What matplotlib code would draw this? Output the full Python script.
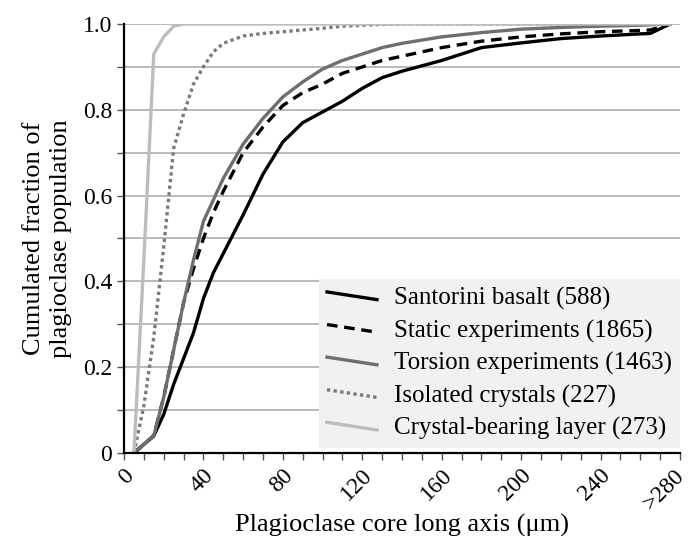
import matplotlib
matplotlib.use("Agg")
import matplotlib.pyplot as plt
from matplotlib.legend_handler import HandlerLine2D
from matplotlib.lines import Line2D
from matplotlib.transforms import ScaledTranslation

plt.rcParams['font.family'] = ['Liberation Serif', 'DejaVu Serif']

# Plagioclase core long axis (um)
core_axis = [5, 10, 15, 20, 25, 30, 35, 40, 45, 50, 60, 70, 80, 90, 100,
             110, 120, 130, 140, 160, 180, 200, 220, 240, 260, 265, 275]

santorini = [0, 0.02, 0.04, 0.09, 0.16, 0.22, 0.28, 0.36, 0.42, 0.465, 0.555,
             0.65, 0.725, 0.77, 0.795, 0.82, 0.85, 0.875, 0.89, 0.915, 0.945,
             0.956, 0.966, 0.972, 0.977, 0.978, 1.0]
static = [0, 0.02, 0.04, 0.13, 0.24, 0.35, 0.43, 0.5, 0.56, 0.61, 0.7, 0.76,
          0.81, 0.84, 0.86, 0.885, 0.9, 0.915, 0.925, 0.945, 0.96, 0.97,
          0.977, 0.982, 0.985, 0.986, 1.0]
torsion = [0, 0.02, 0.04, 0.13, 0.24, 0.35, 0.45, 0.54, 0.59, 0.64, 0.72,
           0.78, 0.83, 0.865, 0.895, 0.915, 0.93, 0.945, 0.955, 0.97, 0.98,
           0.988, 0.992, 0.995, 0.997, 0.998, 1.0]
isolated = [0, 0.11, 0.27, 0.48, 0.71, 0.79, 0.86, 0.9, 0.935, 0.955, 0.972,
            0.978, 0.982, 0.986, 0.99, 0.995, 0.997, 0.999, 1.0, 1.0, 1.0,
            1.0, 1.0, 1.0, 1.0, 1.0, 1.0]
layer = [0, 0.45, 0.93, 0.97, 0.995, 1.0, 1.0, 1.0, 1.0, 1.0, 1.0, 1.0, 1.0,
         1.0, 1.0, 1.0, 1.0, 1.0, 1.0, 1.0, 1.0, 1.0, 1.0, 1.0, 1.0, 1.0, 1.0]

labels = ["Santorini basalt (588)", "Static experiments (1865)",
          "Torsion experiments (1463)", "Isolated crystals (227)",
          "Crystal-bearing layer (273)"]
xtick_pos = [0, 40, 80, 120, 160, 200, 240, 280]
xtick_labels = ["0", "40", "80", "120", "160", "200", "240", ">280"]


class SlantHandler(HandlerLine2D):
    # Excel style slanted legend line
    def create_artists(self, legend, orig_handle, xdescent, ydescent,
                       width, height, fontsize, trans):
        yc = (height - ydescent) / 2
        d = 0.22 * height
        line = Line2D([-xdescent, -xdescent + width], [yc + d, yc - d])
        self.update_prop(line, orig_handle, legend)
        line.set_transform(trans)
        return [line]


fig = plt.figure(figsize=(6.9, 5.36), dpi=100)
ax = fig.add_axes([0.1797, 0.1549, 0.8058, 0.8003])

lw = 2.4
lines = []
lines += ax.plot(core_axis, santorini, color='black', lw=lw)
lines += ax.plot(core_axis, static, color='black', lw=lw, ls=(0, (3.2, 2.0)))
lines += ax.plot(core_axis, torsion, color='#6e6e6e', lw=lw)
lines += ax.plot(core_axis, isolated, color='#7a7a7a', lw=lw, ls=(0, (1, 1)),
                 dash_capstyle='butt')
lines += ax.plot(core_axis, layer, color='#bdbdbd', lw=lw)

ax.set_xlim(0, 280)
ax.set_ylim(0, 1.0)
ax.set_yticks([0, 0.2, 0.4, 0.6, 0.8, 1.0])
ax.set_yticklabels(["0", "0.2", "0.4", "0.6", "0.8", "1.0"])
ax.set_yticks([i / 10 for i in range(11)], minor=True)
ax.set_xticks(range(0, 281, 10), minor=True)
ax.set_xticks(xtick_pos)
ax.set_xticklabels(xtick_labels, rotation=45, ha='right', va='center',
                   rotation_mode='anchor')
ax.yaxis.grid(True, which='both', color='#b4b4b4', lw=1.3)
ax.set_axisbelow(True)

for s in ['top', 'right']:
    ax.spines[s].set_visible(False)
for s in ['left', 'bottom']:
    ax.spines[s].set_linewidth(1.6)
ax.tick_params(which='both', direction='out', length=5, width=1,
               color='#555555', labelsize=17)
ax.tick_params(axis='x', which='major', pad=9)

# nudge rotated x labels to the right (after tick_params, which resets them)
xlabs = ax.get_xticklabels()
for i, lab in enumerate(xlabs):
    dx = 1 if i == len(xlabs) - 1 else 7
    lab.set_transform(lab.get_transform() +
                      ScaledTranslation(dx / 100, 0, fig.dpi_scale_trans))

ax.set_xlabel("Plagioclase core long axis (\u03bcm)", fontsize=19, labelpad=0)
ax.set_ylabel("Cumulated fraction of\nplagioclase population", fontsize=19,
              labelpad=8, linespacing=1.25)

slant = SlantHandler()
leg = ax.legend(lines, labels, loc='lower right', bbox_to_anchor=(1.0, 0.012),
                fontsize=18, frameon=True, fancybox=False, handlelength=2.0,
                handletextpad=0.7, labelspacing=0.38, borderpad=0.3,
                borderaxespad=0.0,
                handler_map={ln: slant for ln in lines})
leg.get_frame().set_facecolor('#f0f1f1')
leg.get_frame().set_edgecolor('none')
leg.get_frame().set_alpha(1)

fig.savefig("out.png", dpi=100)
